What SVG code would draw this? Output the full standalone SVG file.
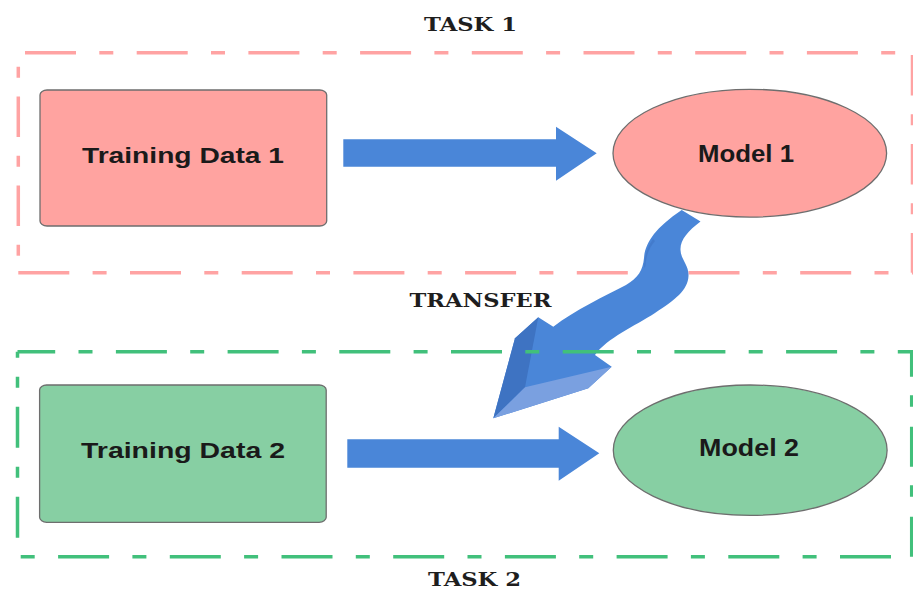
<svg xmlns="http://www.w3.org/2000/svg" width="913" height="589" viewBox="0 0 913 589">
<style>
  .frame-red { fill: none; stroke: #FFA3A3; stroke-width: 3.5; }
  .frame-green { fill: none; stroke: #41C07B; stroke-width: 3.5; }
  .hdash { stroke-dasharray: 51 23.3 14 23.4; }
  .vdash { stroke-dasharray: 40.5 18.7 11 18.8; }
  .node-red { fill: #FFA3A0; stroke: #6E6E6E; stroke-width: 1.3; }
  .node-green { fill: #87CFA3; stroke: #6E6E6E; stroke-width: 1.3; }
  .label { font-family: "Liberation Sans", Arial, sans-serif; font-weight: bold; fill: #1A1A1A; text-anchor: middle; }
  .title { font-family: "DejaVu Serif", "Liberation Serif", serif; font-weight: bold; font-size: 18px; fill: #1E1E1E; text-anchor: middle; }
  .arrow { fill: #4A86D8; }
</style>

<g id="task1-frame">
  <path class="frame-red hdash" d="M25 52.7 H913"/>
  <path class="frame-red hdash" d="M18.3 272.7 H913"/>
  <path class="frame-red vdash" d="M18.3 66.7 V272.7" style="stroke-dasharray: 11 18.7 40.5 18.8"/>
  <path class="frame-red vdash" d="M912.5 55 V272.7"/>
  <text class="title" x="470.5" y="30.7" textLength="93" lengthAdjust="spacingAndGlyphs">TASK 1</text>
</g>

<g id="connectors">
  <polygon class="arrow" points="343.3,139.3 556,139.3 556,126.7 596.7,153.3 556,180.7 556,166.7 343.3,166.7"/>
  <polygon class="arrow" points="347.3,439.3 558.7,439.3 558.7,426.7 599.3,453.3 558.7,480.7 558.7,467.7 347.3,467.7"/>
  <g id="transfer-arrow">
    <path class="arrow" d="M681.7 210 L700.5 221.5 C688 231 680 240 680.5 250 C681 260 689 265 688.5 276 C688 290 675 300 655 313 C635 326 607 338 595 355 L611.7 366.7 L588.3 388.3 L493.3 418.3 L515 338.3 L538.3 317.3 L553.3 326.7 C575 310 605 296 626 285 C638 278 643 270 644 258 C645 243 655 228 681.7 210 Z"/>
    <path fill="#3F74C4" opacity="0.6" d="M655 241 C649 248 646 256 645.5 266 L644 268 C644.5 256 647 247 653 239 Z"/>
    <polygon fill="#3E73C2" points="515,338.3 538.3,317.3 525,387.3 493.3,418.3"/>
    <polygon fill="#7AA0E0" points="525,387.3 611.7,366.7 588.3,388.3 493.3,418.3"/>
  </g>
</g>

<g id="task2-frame">
  <path class="frame-green hdash" d="M17.5 351.7 H913" style="stroke-dashoffset: 13.3"/>
  <path class="frame-green hdash" d="M17.5 556.7 H913" style="stroke-dashoffset: 71.1"/>
  <path class="frame-green" d="M17.5 351.7 V556.7" style="stroke-dasharray: 41 19 11 19; stroke-dashoffset: 35"/>
  <path class="frame-green" d="M911.7 351.7 V556.7" style="stroke-dasharray: 40 18.5 11.5 20; stroke-dashoffset: 15"/>
  <text class="title" x="474.5" y="585.5" textLength="93" lengthAdjust="spacingAndGlyphs">TASK 2</text>
</g>

<text class="title" x="480.5" y="306.7" textLength="142" lengthAdjust="spacingAndGlyphs">TRANSFER</text>

<g id="training-data-1">
  <rect class="node-red" x="40" y="90" width="286.7" height="136" rx="7" ry="5"/>
  <text class="label" x="183" y="162.7" font-size="22" textLength="202" lengthAdjust="spacingAndGlyphs">Training Data 1</text>
</g>

<g id="model-1">
  <ellipse class="node-red" cx="749.8" cy="153.2" rx="136.8" ry="63.9"/>
  <text class="label" x="746" y="161.7" font-size="23" textLength="96" lengthAdjust="spacingAndGlyphs">Model 1</text>
</g>

<g id="training-data-2">
  <rect class="node-green" x="39.6" y="385" width="286.6" height="137.3" rx="7" ry="5"/>
  <text class="label" x="183" y="458" font-size="22" textLength="204" lengthAdjust="spacingAndGlyphs">Training Data 2</text>
</g>

<g id="model-2">
  <ellipse class="node-green" cx="750.2" cy="450.2" rx="136.9" ry="65.2"/>
  <text class="label" x="749" y="455.5" font-size="23" textLength="100" lengthAdjust="spacingAndGlyphs">Model 2</text>
</g>
</svg>
